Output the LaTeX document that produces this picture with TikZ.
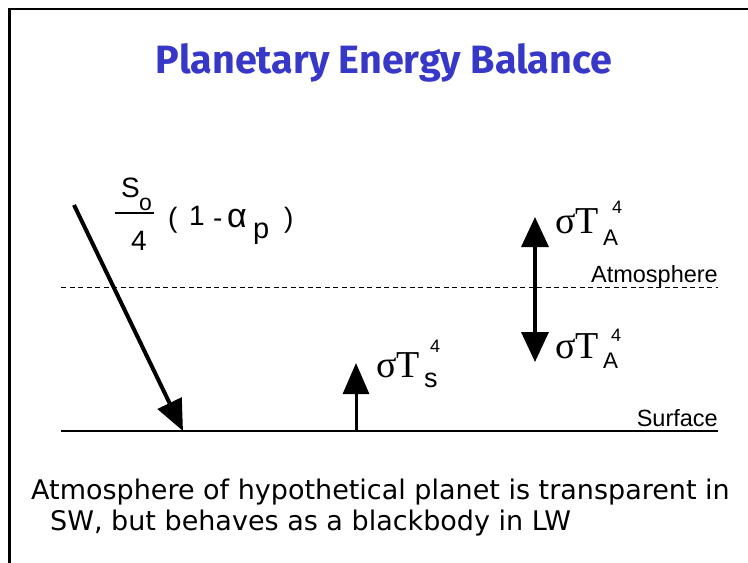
\documentclass[tikz,border=0pt]{standalone}
\usepackage{fontspec}
\setmainfont{Liberation Sans}
\newfontfamily\serifglyph{Liberation Serif}
\newfontfamily\titlefont{Fira Sans}
\newfontfamily\notefont{DejaVu Sans}
\usetikzlibrary{arrows.meta}
\definecolor{titleblue}{RGB}{56,56,200}
\begin{document}
\begin{tikzpicture}[x=1pt,y=-1pt,
  glyph/.style={inner sep=0pt, anchor=base west},
  ser/.style={glyph, font=\serifglyph\fontsize{38}{38}\selectfont},
  subA/.style={glyph, font=\fontsize{22.5}{22.5}\selectfont},
  supf/.style={glyph, font=\fontsize{18}{18}\selectfont},
  lbl/.style={glyph, font=\fontsize{28}{28}\selectfont},
  layer/.style={inner sep=0pt, anchor=base east, font=\fontsize{23.5}{24}\selectfont},
  bigarrow/.style={line width=3.5pt, -{Triangle[length=31pt,width=26pt]}},
  note/.style={inner sep=0pt, anchor=base west, font=\notefont\fontsize{27}{28}\selectfont}
]
\useasboundingbox (0,0) rectangle (748,563);
\fill[white] (0,0) rectangle (748,563);
% frame
\draw[line width=2.5pt] (9.5,563) -- (9.5,9) -- (748,9);
% title
\node[inner sep=0pt, anchor=base, text=titleblue, font=\titlefont\bfseries\fontsize{39.5}{42}\selectfont] (title) at (384,73) {Planetary Energy Balance};
% layers
\coordinate (atmL) at (61,287);
\coordinate (atmR) at (718,287);
\coordinate (surL) at (61,431);
\coordinate (surR) at (718,431);
\draw[line width=1pt, dash pattern=on 5pt off 3.5pt] (atmL) -- (atmR);
\draw[line width=2pt] (surL) -- (surR);
\node[layer] (atmlabel) at (718,282) {Atmosphere};
\node[layer] (surflabel) at (718,426) {Surface};
% solar arrow
\coordinate (solA) at (74,205);
\coordinate (solB) at (183,431);
\draw[bigarrow, line width=4pt] (solA) -- (solB);
% solar label
\node[lbl] (S) at (121,197) {S};
\node[glyph, font=\fontsize{23}{23}\selectfont] (So) at (139,210) {o};
\draw[line width=1.3pt] (115,213) -- (154,213);
\node[lbl] (four) at (131,250) {4};
\node[lbl] (lpar) at (168,227) {(};
\node[lbl] (one) at (189,225) {1};
\node[lbl] (minus) at (213,227) {-};
\node[glyph, font=\fontsize{34}{34}\selectfont] (alpha) at (227,227) {α};
\node[glyph, font=\fontsize{29}{29}\selectfont] (p) at (253,238) {p};
\node[lbl] (rpar) at (284,227) {)};
% surface emission
\coordinate (surfE) at (356,431);
\coordinate (surfT) at (356,363);
\draw[bigarrow, line width=3pt] (surfE) -- (surfT);
\node[ser] (sTs) at (376,377) {σT};
\node[glyph, font=\fontsize{27}{27}\selectfont] (sTsSub) at (424,387) {s};
\node[supf] (sTsSup) at (430,352) {4};
% atmosphere emission
\coordinate (atmUp) at (535,217);
\coordinate (atmDn) at (535,362);
\draw[line width=3.5pt, {Triangle[length=30pt,width=27pt]}-{Triangle[length=30pt,width=27pt]}] (atmUp) -- (atmDn);
\node[ser] (sTA1) at (555,233) {σT};
\node[subA] (sTA1sub) at (603,245) {A};
\node[supf] (sTA1sup) at (612,213) {4};
\node[ser] (sTA2) at (555,358) {σT};
\node[subA] (sTA2sub) at (603,368) {A};
\node[supf] (sTA2sup) at (611,341) {4};
% note
\node[note] (note1) at (31,499) {Atmosphere of hypothetical planet is transparent in};
\node[note] (note2) at (50,530) {SW, but behaves as a blackbody in LW};
\end{tikzpicture}
\end{document}
